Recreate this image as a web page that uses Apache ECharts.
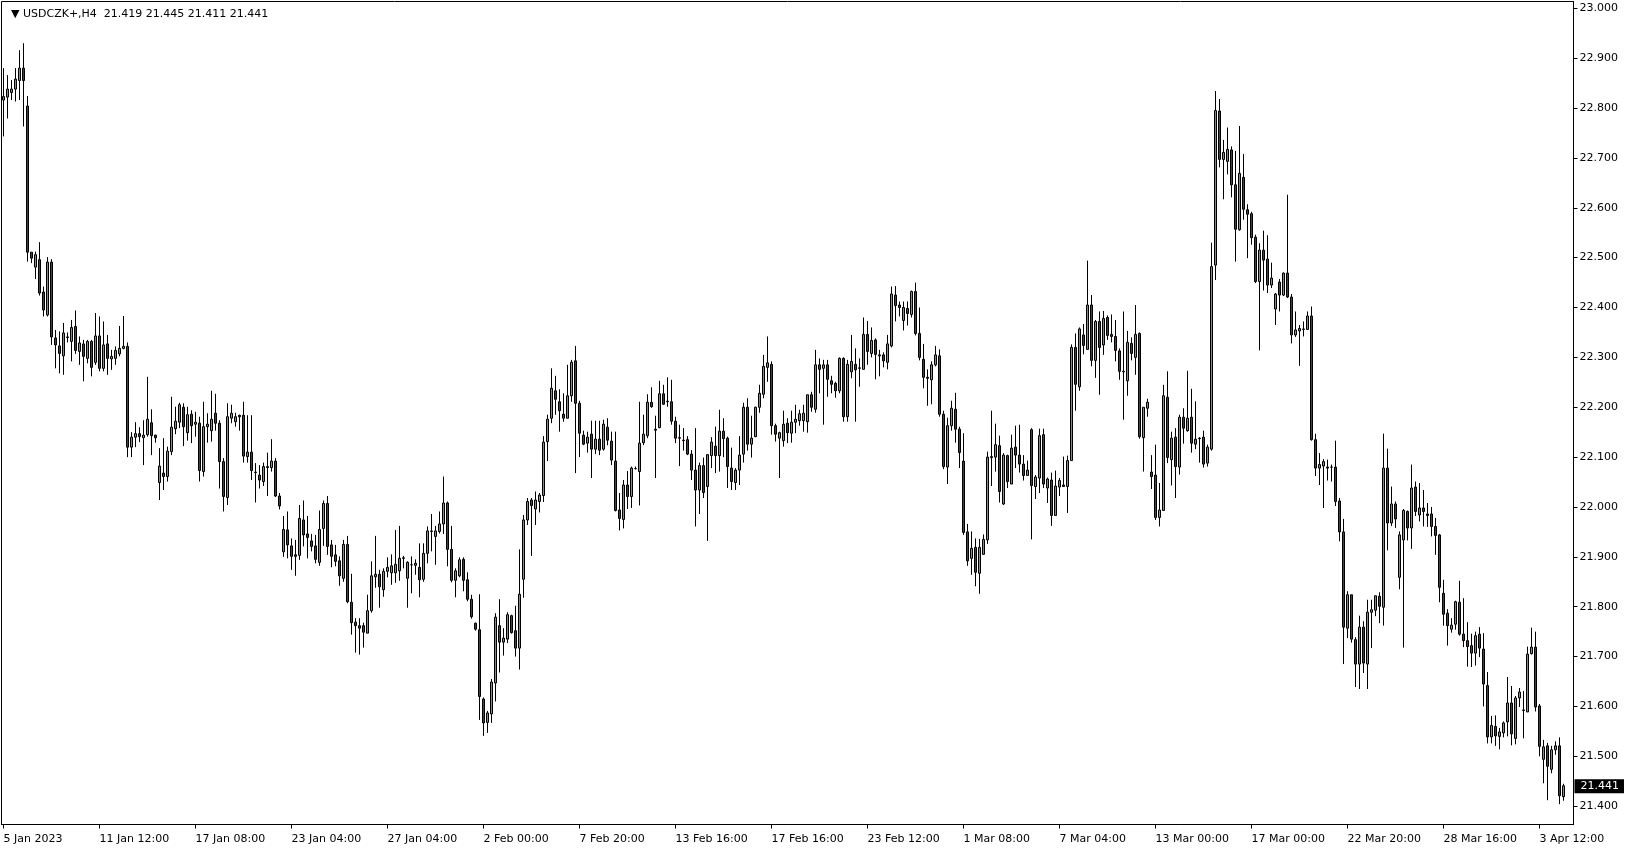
<!DOCTYPE html>
<html><head><meta charset="utf-8">
<script src="https://cdn.jsdelivr.net/npm/echarts@6/dist/echarts.min.js"></script>
<style>html,body{margin:0;padding:0;background:#fff}#c{width:1629px;height:850px}</style>
</head><body><div id="c"></div>
<script>
const symbolName = 'USDCZK+,H4';
const tickLabels = ['5 Jan 2023','11 Jan 12:00','17 Jan 08:00','23 Jan 04:00','27 Jan 04:00','2 Feb 00:00','7 Feb 20:00','13 Feb 16:00','17 Feb 16:00','23 Feb 12:00','1 Mar 08:00','7 Mar 04:00','13 Mar 00:00','17 Mar 00:00','22 Mar 20:00','28 Mar 16:00','3 Apr 12:00'];
const barsPerLabel = 24;
const yTicks = [21.4,21.5,21.6,21.7,21.8,21.9,22.0,22.1,22.2,22.3,22.4,22.5,22.6,22.7,22.8,22.9,23.0];

const openP = [
22.816,22.822,22.831,22.838,22.855,22.880,22.804,22.511,22.481,22.496,
22.431,22.385,22.491,22.339,22.323,22.303,22.340,22.332,22.362,22.312,
22.327,22.298,22.332,22.290,22.343,22.278,22.327,22.297,22.298,22.307,
22.318,22.322,22.120,22.140,22.147,22.139,22.145,22.169,22.144,22.049,
22.068,22.061,22.111,22.157,22.170,22.200,22.149,22.186,22.166,22.168,
22.071,22.161,22.153,22.188,22.168,22.091,22.019,22.178,22.171,22.184,
22.184,22.101,22.110,22.070,22.064,22.051,22.079,22.079,22.092,22.022,
21.910,21.954,21.922,21.904,21.903,21.974,21.946,21.932,21.922,21.889,
21.957,22.007,21.924,21.904,21.892,21.857,21.925,21.809,21.769,21.762,
21.762,21.747,21.792,21.860,21.865,21.834,21.871,21.868,21.868,21.872,
21.898,21.857,21.884,21.883,21.879,21.855,21.907,21.952,21.941,21.951,
21.966,22.008,21.915,21.853,21.862,21.895,21.854,21.815,21.767,21.754,
21.615,21.568,21.585,21.647,21.762,21.729,21.735,21.782,21.752,21.717,
21.855,21.974,22.014,21.996,22.011,22.023,22.131,22.178,22.233,22.211,
22.186,22.178,22.223,22.293,22.208,22.144,22.128,22.146,22.116,22.136,
22.116,22.160,22.132,22.092,21.994,21.975,22.044,22.021,22.077,22.071,
22.129,22.143,22.210,22.156,22.159,22.227,22.211,22.211,22.172,22.139,
22.134,22.135,22.106,22.074,22.034,22.083,22.041,22.103,22.122,22.103,
22.152,22.138,22.078,22.049,22.074,22.106,22.200,22.126,22.141,22.200,
22.226,22.280,22.286,22.163,22.138,22.133,22.168,22.148,22.170,22.173,
22.173,22.171,22.225,22.196,22.285,22.278,22.285,22.253,22.248,22.233,
22.298,22.181,22.271,22.286,22.278,22.276,22.346,22.308,22.335,22.305,
22.305,22.290,22.323,22.425,22.405,22.374,22.398,22.386,22.432,22.348,
22.296,22.260,22.255,22.285,22.303,22.186,22.080,22.163,22.196,22.156,
22.092,21.950,21.897,21.919,21.867,21.905,21.934,22.099,22.100,22.123,
22.006,22.103,22.046,22.120,22.104,22.086,22.063,22.155,22.041,22.058,
22.145,22.038,22.054,21.983,22.040,22.044,22.041,22.093,22.320,22.241,
22.345,22.316,22.405,22.294,22.372,22.325,22.380,22.346,22.342,22.313,
22.272,22.253,22.328,22.300,22.348,22.139,22.198,22.070,22.064,21.979,
21.993,22.220,22.095,22.140,22.080,22.180,22.153,22.180,22.126,22.137,
22.140,22.088,22.116,22.485,22.794,22.697,22.693,22.716,22.646,22.556,
22.661,22.596,22.588,22.541,22.452,22.515,22.497,22.445,22.397,22.451,
22.425,22.469,22.421,22.345,22.353,22.357,22.356,22.383,22.135,22.078,
22.082,22.080,22.080,22.080,22.012,21.950,21.757,21.824,21.734,21.685,
21.759,21.685,21.789,21.793,21.821,21.799,22.078,21.968,22.006,21.859,
21.934,21.991,21.958,22.040,21.984,21.998,21.986,21.986,21.961,21.944,
21.827,21.787,21.755,21.765,21.809,21.745,21.732,21.722,21.707,21.745,
21.715,21.642,21.539,21.560,21.540,21.547,21.569,21.607,21.536,21.617,
21.593,21.589,21.706,21.719,21.601,21.494,21.521,21.474,21.513,21.521,21.419];

const highP = [
22.880,22.866,22.856,22.880,22.916,22.930,22.824,22.511,22.512,22.531,
22.442,22.501,22.497,22.355,22.352,22.369,22.350,22.375,22.394,22.342,
22.335,22.335,22.335,22.389,22.382,22.372,22.345,22.315,22.322,22.363,
22.383,22.330,22.150,22.170,22.160,22.174,22.261,22.196,22.145,22.118,
22.138,22.121,22.221,22.201,22.209,22.208,22.201,22.194,22.191,22.181,
22.211,22.188,22.233,22.227,22.174,22.098,22.208,22.205,22.189,22.185,
22.211,22.184,22.184,22.088,22.084,22.089,22.109,22.136,22.098,22.028,
21.982,21.991,21.937,21.934,22.004,22.013,21.982,21.946,21.944,21.993,
22.013,22.022,21.934,21.924,21.901,21.934,21.942,21.866,21.777,21.777,
21.768,21.824,21.891,21.942,21.874,21.877,21.899,21.905,21.954,21.962,
21.902,21.891,21.901,21.895,21.927,21.927,21.961,21.986,21.962,21.991,
22.061,22.011,21.962,21.877,21.899,21.899,21.869,21.824,21.768,21.825,
21.618,21.591,21.655,21.787,21.815,21.757,21.789,21.784,21.802,21.915,
21.984,22.018,22.018,22.031,22.028,22.142,22.185,22.278,22.263,22.236,
22.228,22.285,22.295,22.323,22.213,22.153,22.151,22.173,22.173,22.173,
22.175,22.178,22.151,22.151,22.028,22.054,22.072,22.081,22.081,22.211,
22.185,22.226,22.240,22.183,22.253,22.245,22.260,22.255,22.181,22.165,
22.158,22.142,22.114,22.158,22.089,22.099,22.106,22.140,22.161,22.195,
22.178,22.141,22.119,22.078,22.142,22.209,22.218,22.183,22.201,22.245,
22.305,22.342,22.292,22.167,22.151,22.193,22.178,22.193,22.205,22.195,
22.205,22.225,22.231,22.315,22.298,22.295,22.295,22.263,22.251,22.300,
22.300,22.295,22.345,22.318,22.298,22.380,22.373,22.360,22.338,22.315,
22.310,22.345,22.442,22.443,22.412,22.412,22.412,22.434,22.450,22.400,
22.327,22.276,22.292,22.323,22.316,22.193,22.179,22.213,22.229,22.161,
22.148,21.966,21.951,21.937,21.936,21.945,22.111,22.193,22.167,22.143,
22.108,22.105,22.145,22.163,22.165,22.104,22.093,22.158,22.064,22.157,
22.157,22.059,22.069,22.073,22.058,22.101,22.103,22.326,22.348,22.360,
22.367,22.494,22.425,22.375,22.392,22.393,22.384,22.386,22.375,22.318,
22.392,22.353,22.340,22.405,22.350,22.200,22.217,22.104,22.125,22.048,
22.245,22.272,22.151,22.158,22.185,22.198,22.273,22.237,22.212,22.140,
22.153,22.125,22.530,22.834,22.818,22.736,22.761,22.723,22.714,22.764,
22.708,22.607,22.592,22.546,22.529,22.554,22.545,22.490,22.429,22.457,
22.470,22.626,22.427,22.392,22.365,22.372,22.392,22.402,22.147,22.108,
22.096,22.095,22.085,22.133,22.018,21.976,21.831,21.824,21.739,21.782,
21.771,21.814,21.814,21.822,21.829,22.147,22.117,22.041,22.011,21.951,
21.996,21.993,22.085,22.051,22.048,22.034,22.008,22.000,21.978,21.946,
21.854,21.795,21.777,21.812,21.852,21.817,21.769,21.746,21.750,21.759,
21.747,21.669,21.581,21.582,21.557,21.570,21.659,21.641,21.621,21.637,
21.631,21.720,21.758,21.750,21.605,21.533,21.527,21.521,21.530,21.538,21.445];

const lowP = [
22.743,22.779,22.816,22.813,22.816,22.763,22.492,22.489,22.457,22.424,
22.382,22.382,22.325,22.278,22.268,22.265,22.330,22.292,22.307,22.285,
22.252,22.288,22.262,22.285,22.272,22.272,22.265,22.275,22.285,22.302,
22.316,22.100,22.100,22.120,22.130,22.084,22.141,22.104,22.129,22.014,
22.034,22.051,22.104,22.146,22.158,22.122,22.133,22.128,22.141,22.051,
22.061,22.129,22.131,22.153,22.037,21.991,22.004,22.168,22.161,22.153,
22.089,22.089,22.054,22.009,22.037,22.042,22.022,22.071,22.020,21.995,
21.900,21.897,21.874,21.862,21.894,21.921,21.897,21.911,21.887,21.882,
21.922,21.904,21.879,21.881,21.842,21.850,21.807,21.744,21.708,21.704,
21.718,21.747,21.788,21.838,21.798,21.820,21.859,21.844,21.848,21.852,
21.877,21.798,21.827,21.864,21.819,21.850,21.887,21.911,21.884,21.947,
21.946,21.881,21.849,21.819,21.859,21.831,21.811,21.776,21.752,21.573,
21.541,21.547,21.567,21.610,21.668,21.702,21.727,21.746,21.700,21.674,
21.818,21.964,21.902,21.964,21.989,22.010,22.092,22.168,22.185,22.151,
22.171,22.178,22.211,22.068,22.100,22.124,22.109,22.058,22.106,22.104,
22.113,22.124,22.084,21.991,21.953,21.957,21.996,21.998,22.075,22.003,
22.124,22.138,22.199,22.058,22.158,22.205,22.201,22.165,22.128,22.082,
22.113,22.104,22.054,21.961,21.986,22.018,21.932,22.078,22.068,22.071,
22.100,22.038,22.034,22.034,22.044,22.089,22.113,22.099,22.140,22.189,
22.218,22.251,22.145,22.131,22.058,22.121,22.128,22.129,22.148,22.163,
22.151,22.149,22.191,22.189,22.228,22.165,22.221,22.228,22.219,22.228,
22.171,22.171,22.258,22.171,22.241,22.276,22.285,22.300,22.256,22.262,
22.280,22.276,22.320,22.372,22.382,22.354,22.364,22.380,22.344,22.294,
22.238,22.203,22.206,22.282,22.181,22.076,22.046,22.153,22.129,22.078,
21.944,21.882,21.864,21.841,21.826,21.904,21.926,22.042,22.071,22.009,
22.004,22.038,22.046,22.078,22.069,22.053,22.063,21.935,22.016,22.028,
22.038,22.008,21.962,21.983,22.022,22.041,21.988,22.093,22.193,22.233,
22.306,22.316,22.282,22.259,22.225,22.305,22.335,22.330,22.292,22.255,
22.175,22.223,22.294,22.265,22.137,22.071,22.181,22.036,21.974,21.961,
21.993,22.088,22.043,22.018,22.065,22.127,22.151,22.109,22.116,22.089,
22.079,22.081,22.113,22.455,22.681,22.617,22.667,22.621,22.492,22.554,
22.576,22.499,22.526,22.449,22.314,22.434,22.429,22.439,22.365,22.392,
22.423,22.419,22.328,22.341,22.283,22.342,22.355,22.133,22.062,22.044,
21.998,22.053,22.051,22.002,21.931,21.685,21.737,21.728,21.639,21.635,
21.667,21.635,21.717,21.781,21.767,21.762,21.913,21.962,21.958,21.835,
21.718,21.933,21.916,21.982,21.971,21.961,21.960,21.941,21.904,21.809,
21.762,21.722,21.748,21.754,21.742,21.719,21.680,21.679,21.682,21.699,
21.600,21.526,21.526,21.521,21.514,21.538,21.540,21.522,21.524,21.599,
21.536,21.589,21.704,21.590,21.500,21.446,21.412,21.466,21.503,21.404,21.411];

const closeP = [
22.823,22.838,22.838,22.858,22.880,22.855,22.511,22.499,22.506,22.429,
22.395,22.491,22.341,22.325,22.308,22.349,22.341,22.360,22.314,22.329,
22.302,22.332,22.280,22.343,22.278,22.325,22.298,22.302,22.314,22.318,
22.322,22.120,22.140,22.147,22.141,22.144,22.176,22.143,22.139,22.082,
22.061,22.112,22.160,22.172,22.205,22.161,22.185,22.163,22.170,22.073,
22.161,22.166,22.176,22.168,22.091,22.021,22.181,22.188,22.181,22.181,
22.102,22.110,22.073,22.069,22.054,22.081,22.081,22.092,22.022,22.002,
21.955,21.924,21.901,21.901,21.977,21.944,21.939,21.921,21.895,21.955,
22.007,21.921,21.901,21.891,21.862,21.925,21.810,21.768,21.762,21.757,
21.749,21.792,21.862,21.865,21.840,21.871,21.879,21.882,21.885,21.897,
21.897,21.889,21.884,21.887,21.854,21.907,21.952,21.951,21.952,21.966,
22.008,21.915,21.853,21.872,21.894,21.853,21.815,21.780,21.755,21.620,
21.567,21.587,21.649,21.779,21.729,21.737,21.784,21.748,21.717,21.825,
21.974,22.011,22.003,22.014,22.024,22.130,22.176,22.238,22.216,22.193,
22.178,22.223,22.290,22.208,22.148,22.126,22.140,22.116,22.136,22.114,
22.166,22.134,22.094,21.993,21.977,22.044,22.021,22.078,22.077,22.128,
22.146,22.210,22.201,22.154,22.227,22.206,22.212,22.172,22.138,22.138,
22.133,22.106,22.074,22.034,22.083,22.029,22.105,22.130,22.103,22.152,
22.137,22.081,22.051,22.074,22.104,22.200,22.126,22.138,22.200,22.228,
22.282,22.289,22.163,22.146,22.149,22.166,22.149,22.170,22.176,22.187,
22.188,22.225,22.200,22.285,22.276,22.285,22.256,22.246,22.233,22.298,
22.181,22.286,22.292,22.275,22.279,22.346,22.312,22.334,22.306,22.303,
22.293,22.327,22.427,22.404,22.400,22.400,22.388,22.432,22.348,22.300,
22.260,22.258,22.285,22.305,22.186,22.081,22.163,22.198,22.156,22.109,
21.949,21.892,21.917,21.869,21.919,21.935,22.100,22.101,22.125,22.031,
22.104,22.051,22.118,22.104,22.086,22.063,22.074,22.043,22.060,22.143,
22.046,22.056,21.983,22.042,22.053,22.041,22.093,22.320,22.246,22.357,
22.324,22.405,22.294,22.372,22.320,22.378,22.344,22.342,22.314,22.272,
22.271,22.330,22.308,22.346,22.141,22.200,22.210,22.061,21.979,21.994,
22.223,22.099,22.138,22.081,22.180,22.158,22.178,22.128,22.136,22.138,
22.086,22.120,22.482,22.795,22.697,22.711,22.717,22.646,22.557,22.669,
22.597,22.587,22.540,22.452,22.515,22.495,22.445,22.459,22.427,22.425,
22.469,22.421,22.345,22.355,22.358,22.356,22.383,22.135,22.078,22.085,
22.091,22.078,22.080,22.011,21.950,21.759,21.824,21.735,21.685,21.759,
21.687,21.789,21.794,21.822,21.801,22.078,21.968,22.006,21.976,21.944,
21.993,21.958,22.038,21.991,21.998,21.991,21.983,21.961,21.943,21.839,
21.785,21.762,21.763,21.810,21.745,21.732,21.720,21.707,21.742,21.717,
21.645,21.539,21.562,21.541,21.549,21.567,21.607,21.545,21.617,21.629,
21.592,21.705,21.719,21.599,21.520,21.519,21.480,21.513,21.521,21.421,21.441];

const n = openP.length;
const emptyBarsRight = 2;
const categories = [];
for (let i = 0; i < n + emptyBarsRight; i++) categories.push(String(i));
const candles = openP.map((o, i) => [o, closeP[i], lowP[i], highP[i]]);
const last = n - 1;
const lastOHLC = [openP[last], highP[last], lowP[last], closeP[last]].map(v => v.toFixed(3)).join(' ');

const FONT = 'DejaVu Sans';
const chart = echarts.init(document.getElementById('c'), null, {renderer: 'canvas'});
chart.setOption({
  animation: false,
  backgroundColor: '#ffffff',
  title: {
    text: '{t|▼} ' + symbolName + '  ' + lastOHLC,
    left: 6, top: 4,
    textStyle: {
      fontFamily: FONT, fontSize: 11, fontWeight: 'normal', color: '#000',
      rich: { t: { fontSize: 11, fontFamily: FONT, color: '#000' } }
    }
  },
  grid: {
    left: 1.5, top: 1.5, right: 55.5, bottom: 25.5,
    show: true, borderColor: '#000', borderWidth: 1, backgroundColor: '#fff'
  },
  xAxis: {
    type: 'category',
    data: categories,
    boundaryGap: true,
    axisLine: { show: true, onZero: false, lineStyle: { color: '#000', width: 1 } },
    axisTick: {
      show: true, alignWithLabel: true, length: 4,
      interval: (i) => i % barsPerLabel === 0 && i / barsPerLabel < tickLabels.length,
      lineStyle: { color: '#000' }
    },
    axisLabel: {
      interval: (i) => i % barsPerLabel === 0 && i / barsPerLabel < tickLabels.length,
      formatter: (v, i) => tickLabels[Math.round(Number(v) / barsPerLabel)] || '',
      align: 'left', margin: 9, color: '#000', fontFamily: FONT, fontSize: 11,
      hideOverlap: false
    },
    splitLine: { show: false }
  },
  yAxis: {
    type: 'value',
    position: 'right',
    scale: true,
    min: 21.3633,
    max: 23.0136,
    axisLine: { show: true, lineStyle: { color: '#000', width: 1 } },
    axisTick: { show: true, length: 4, inside: false, customValues: yTicks, lineStyle: { color: '#000' } },
    axisLabel: {
      customValues: yTicks,
      formatter: (v) => Number(v).toFixed(3),
      margin: 6, padding: [3, 0, 0, 0], color: '#000', fontFamily: FONT, fontSize: 11
    },
    splitLine: { show: false }
  },
  series: [{
    type: 'candlestick',
    data: candles,
    barWidth: 2,
    itemStyle: {
      color: '#11dd11', color0: '#dd0000',
      borderColor: '#000', borderColor0: '#000', borderColorDoji: '#000',
      borderWidth: 1
    },
    markLine: {
      silent: true,
      symbol: ['none', 'none'],
      animation: false,
      lineStyle: { color: 'rgba(0,0,0,0)', width: 1, type: 'solid' },
      label: {
        show: true, position: 'end', distance: 1,
        formatter: () => closeP[last].toFixed(3),
        color: '#fff', backgroundColor: '#000',
        padding: [2, 5, 1, 6],
        fontFamily: FONT, fontSize: 11
      },
      data: [{ yAxis: closeP[last] }]
    }
  }]
});
</script>
</body></html>
